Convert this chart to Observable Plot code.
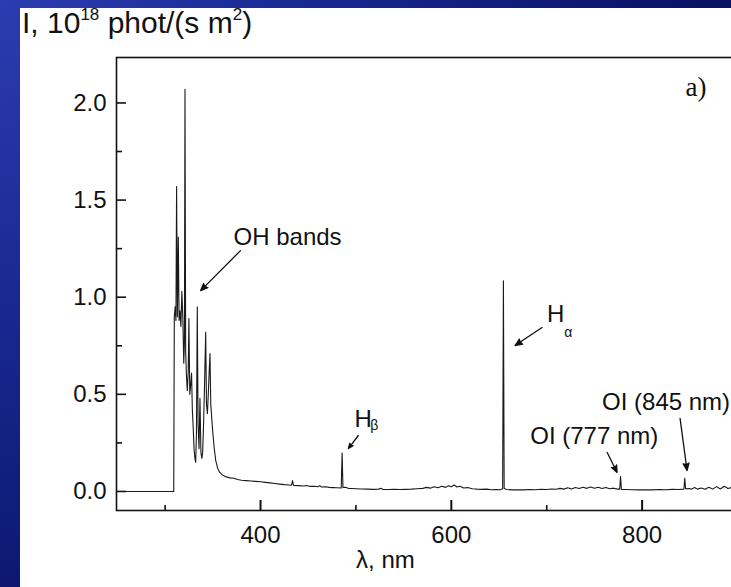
<!DOCTYPE html>
<html>
<head>
<meta charset="utf-8">
<script src="https://cdn.jsdelivr.net/npm/d3@7"></script>
<script src="https://cdn.jsdelivr.net/npm/@observablehq/plot@0.6"></script>
<style>
  html, body { margin: 0; padding: 0; width: 731px; height: 587px; overflow: hidden; }
  body {
    position: relative;
    background: radial-gradient(circle at 0 0, #2b3cb0 0%, #18278f 35%, #0b1469 70%, #050950 100%);
    font-family: "Liberation Sans", Arial, sans-serif;
  }
  #panel { position: absolute; left: 20px; top: 8px; width: 711px; height: 579px; background: #fff; }
  #chart { position: absolute; left: 0; top: 0; width: 760px; height: 587px; }
  #chart svg { max-width: none !important; width: 760px !important; height: 587px !important; }
  #title { position: absolute; left: 22px; top: 6px; font-size: 30px; line-height: 34px; color: #111; white-space: nowrap; }
  #title sup { font-size: 17px; vertical-align: 0; position: relative; top: -13px; }
</style>
</head>
<body>
<div id="panel"></div>
<div id="chart"></div>
<div id="title">I, 10<sup>18</sup> phot/(s m<sup>2</sup>)</div>
<script>
// ---- data (wavelength nm, intensity 1e18 phot/(s m^2)) ----
const spectrum = [
  [249, 0], [280, 0], [309, 0], [309.6, 0.9], [310.5, 0.95], [311.3, 0.88], [312, 1.57], [312.8, 0.9],
  [313.8, 1.31], [314.6, 0.88], [315.5, 0.93], [316.5, 0.85], [317.5, 1.03], [318.5, 0.9],
  [319.5, 0.66], [320.2, 0.76], [320.8, 2.07], [321.5, 0.72], [322.3, 0.6], [323.2, 0.52],
  [324.2, 0.62], [324.9, 0.89], [325.8, 0.5], [326.8, 0.55], [327.7, 0.61], [328.5, 0.42],
  [329.4, 0.33], [330.3, 0.22], [331.2, 0.17], [332, 0.15], [332.8, 0.3], [333.7, 0.95],
  [334.5, 0.35], [335.5, 0.22], [336.5, 0.48], [337.5, 0.2], [338.5, 0.17], [339.3, 0.2],
  [340.3, 0.35], [341.3, 0.55], [342.5, 0.82], [343.3, 0.45], [344.3, 0.4], [345.2, 0.5],
  [346.2, 0.62], [347, 0.71], [347.8, 0.45], [348.8, 0.38], [350, 0.3], [351.5, 0.22],
  [353, 0.16], [355, 0.12], [357, 0.1], [360, 0.085], [364, 0.075], [368, 0.07], [372, 0.068],
  [376, 0.062], [380, 0.058], [385, 0.056], [390, 0.054], [395, 0.052], [400, 0.05],
  [405, 0.047], [410, 0.044], [415, 0.041], [420, 0.038], [425, 0.035], [430, 0.033],
  [432.5, 0.032], [433.5, 0.056], [434.5, 0.031], [440, 0.03], [445, 0.028], [448, 0.031],
  [452, 0.026], [456, 0.027], [460, 0.024], [462, 0.029], [464, 0.023], [468, 0.024],
  [472, 0.021], [476, 0.02], [480, 0.019], [484.6, 0.018], [485.5, 0.198], [486.4, 0.02],
  [489, 0.022], [492, 0.016], [496, 0.015], [500, 0.014], [506, 0.013], [512, 0.012],
  [518, 0.011], [524, 0.012], [526, 0.016], [528, 0.011], [534, 0.01], [540, 0.011],
  [546, 0.01], [552, 0.011], [558, 0.012], [564, 0.014], [570, 0.016], [574, 0.021],
  [578, 0.017], [582, 0.024], [586, 0.019], [590, 0.027], [594, 0.021], [597, 0.03],
  [600, 0.024], [603, 0.033], [606, 0.023], [609, 0.027], [613, 0.018], [617, 0.02],
  [622, 0.014], [627, 0.012], [632, 0.011], [637, 0.012], [642, 0.009], [647, 0.01],
  [651, 0.009], [653.8, 0.014], [654.6, 1.085], [655.4, 0.015], [658, 0.01], [664, 0.008],
  [670, 0.009], [676, 0.008], [682, 0.01], [688, 0.009], [694, 0.011], [700, 0.01],
  [705, 0.013], [710, 0.011], [714, 0.016], [718, 0.012], [722, 0.019], [726, 0.013],
  [730, 0.02], [734, 0.015], [738, 0.022], [742, 0.016], [746, 0.023], [750, 0.017],
  [754, 0.022], [758, 0.015], [762, 0.02], [766, 0.014], [770, 0.017], [774, 0.012],
  [776.5, 0.012], [777.4, 0.077], [778.3, 0.011], [783, 0.01], [790, 0.009], [797, 0.008],
  [804, 0.009], [811, 0.008], [818, 0.01], [825, 0.009], [832, 0.011], [838, 0.01],
  [843.8, 0.012], [844.7, 0.068], [845.6, 0.014], [849, 0.015], [852, 0.012], [855, 0.02],
  [858, 0.012], [862, 0.018], [866, 0.011], [870, 0.022], [874, 0.012], [878, 0.025],
  [882, 0.013], [886, 0.027], [890, 0.015], [895, 0.022], [900, 0.016]
];

const xMajorTicks = [400, 600, 800];
const xMinorTicks = [300, 500, 700];
const yMajorTicks = [0, 0.5, 1.0, 1.5, 2.0];
const yMinorTicks = [0.25, 0.75, 1.25, 1.75];
const xDomain = [249, 900];
const yDomain = [-0.098, 2.234];

// annotations (data coordinates)
const mainLabels = [
  {x: 371.7, y: 1.31, text: "OH bands"},
  {x: 498.4, y: 0.371, text: "H"},
  {x: 700.3, y: 0.911, text: "H"},
  {x: 682.7, y: 0.286, text: "OI (777 nm)"},
  {x: 758.0, y: 0.461, text: "OI (845 nm)"}
];
const subLabels = [
  {x: 515.1, y: 0.34, text: "β"},
  {x: 718.5, y: 0.82, text: "α"}
];
const arrows = [
  {x1: 379, y1: 1.24, x2: 337.2, y2: 1.034},
  {x1: 502.5, y1: 0.288, x2: 492.1, y2: 0.221},
  {x1: 695.1, y1: 0.844, x2: 666.8, y2: 0.751},
  {x1: 763.4, y1: 0.201, x2: 773.8, y2: 0.098},
  {x1: 839.8, y1: 0.376, x2: 847.1, y2: 0.108}
];
const panelTag = [{x: 856.5, y: 2.08, text: "a)"}];
const xLabel = [{x: 530.9, y: -0.355, text: "λ, nm"}];

// ---- layout ----
const W = 760, H = 587, mL = 116, mR = 23, mT = 57, mB = 77;
const plotW = W - mL - mR, plotH = H - mT - mB;
const ink = "#111";

const chart = Plot.plot({
  width: W, height: H,
  marginLeft: mL, marginRight: mR, marginTop: mT, marginBottom: mB,
  style: {background: "transparent", fontFamily: "'Liberation Sans', Arial, sans-serif", color: ink, overflow: "visible", maxWidth: "none"},
  x: {domain: xDomain},
  y: {domain: yDomain},
  marks: [
    Plot.line(spectrum, {x: d => d[0], y: d => d[1], stroke: "#1a1a1a", strokeWidth: 1.1}),
    Plot.frame({stroke: ink, strokeWidth: 1.6}),
    Plot.ruleX(xMajorTicks, {insetTop: plotH - 10, stroke: ink, strokeWidth: 2}),
    Plot.ruleX(xMinorTicks, {insetTop: plotH - 5, stroke: ink, strokeWidth: 1.6}),
    Plot.ruleY(yMajorTicks, {insetRight: plotW - 10, stroke: ink, strokeWidth: 1.6}),
    Plot.ruleY(yMinorTicks, {insetRight: plotW - 6, stroke: ink, strokeWidth: 1.6}),
    Plot.axisX(xMajorTicks, {tickSize: 0, tickPadding: 15, fontSize: 24, label: null}),
    Plot.axisY(yMajorTicks, {tickSize: 0, tickPadding: 10, fontSize: 24, label: null, tickFormat: d3.format(".1f")}),
    Plot.text(mainLabels, {x: "x", y: "y", text: "text", textAnchor: "start", fontSize: 24, fill: ink}),
    Plot.text(subLabels, {x: "x", y: "y", text: "text", textAnchor: "start", fontSize: 14, fill: ink}),
    Plot.arrow(arrows, {x1: "x1", y1: "y1", x2: "x2", y2: "y2", headLength: 9, headAngle: 45, stroke: ink, fill: ink, strokeWidth: 1.3}),
    Plot.text(panelTag, {x: "x", y: "y", text: "text", fontFamily: "'Liberation Serif', 'Times New Roman', serif", fontSize: 27, fill: ink}),
    Plot.text(xLabel, {x: "x", y: "y", text: "text", fontSize: 24, fill: ink})
  ]
});
document.getElementById("chart").appendChild(chart);
</script>
</body>
</html>
